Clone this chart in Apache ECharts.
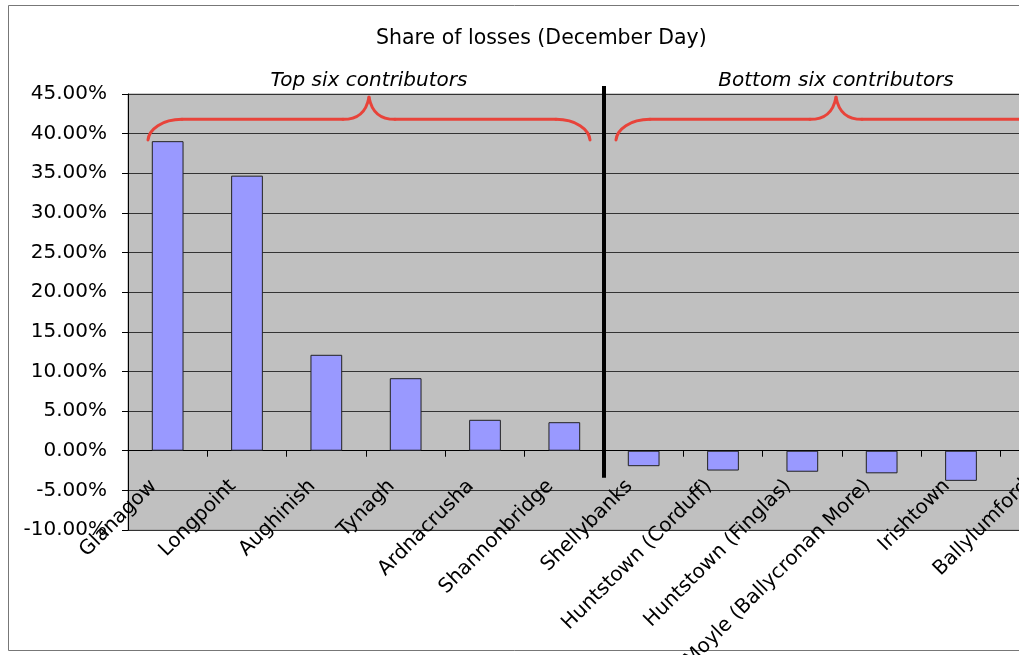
<!DOCTYPE html>
<html>
<head>
<meta charset="utf-8">
<script src="https://cdn.jsdelivr.net/npm/echarts@6/dist/echarts.min.js"></script>
<style>
  html, body { margin: 0; padding: 0; background: #fff; }
  #chart { width: 1019px; height: 655px; }
</style>
</head>
<body>
<div id="chart"></div>
<script>
const categories = [
  'Glanagow', 'Longpoint', 'Aughinish', 'Tynagh', 'Ardnacrusha', 'Shannonbridge',
  'Shellybanks', 'Huntstown (Corduff)', 'Huntstown (Finglas)', 'Moyle (Ballycronan More)',
  'Irishtown', 'Ballylumford'
]
const shares = [39.05, 34.7, 12.1, 9.15, 3.9, 3.6, -1.95, -2.5, -2.65, -2.85, -3.8, -4.5]
const groupLabels = ['Top six contributors', 'Bottom six contributors']
const yMin = -10
const yMax = 45
const yStep = 5

const FONT = 'DejaVu Sans'
const chart = echarts.init(document.getElementById('chart'))

chart.setOption({
  animation: false,
  backgroundColor: '#fff',
  title: {
    text: 'Share of losses (December Day)',
    left: 376,
    top: 28,
    padding: 0,
    textStyle: { color: '#000', fontSize: 20.5, fontWeight: 'normal', fontFamily: FONT },
  },
  grid: {
    left: 128,
    top: 94,
    width: 952,
    height: 436,
    outerBoundsMode: 'none',
    containLabel: false,
    show: true,
    backgroundColor: '#C0C0C0',
    borderColor: '#999',
    borderWidth: 1,
  },
  xAxis: {
    type: 'category',
    data: categories,
    axisLine: { onZero: true, lineStyle: { color: '#000', width: 1 } },
    axisTick: { show: true, length: 6, lineStyle: { color: '#000' } },
    axisLabel: {
      interval: 0,
      rotate: 45,
      margin: -61,
      padding: [0, 20, 0, 0],
      color: '#000',
      fontSize: 20,
      fontFamily: FONT,
    },
  },
  yAxis: {
    type: 'value',
    min: yMin,
    max: yMax,
    interval: yStep,
    axisLine: { show: true, lineStyle: { color: '#000' } },
    axisTick: { show: true, length: 6, lineStyle: { color: '#000' } },
    axisLabel: {
      margin: 21,
      color: '#000',
      fontSize: 20,
      fontFamily: FONT,
      formatter: v => v.toFixed(2) + '%',
    },
    splitLine: { lineStyle: { color: '#333', width: 1 } },
  },
  series: [{
    type: 'bar',
    data: shares,
    barWidth: '40%',
    itemStyle: { color: '#9999FF', borderColor: '#222', borderWidth: 1 },
  }],
})

// annotation overlay: separator, braces and group captions
const catX = i => chart.convertToPixel({ xAxisIndex: 0 }, i)
const valY = v => chart.convertToPixel({ yAxisIndex: 0 }, v)
const step = catX(1) - catX(0)

const braceStyle = { fill: 'none', stroke: '#E8433A', lineWidth: 3, lineCap: 'round' }

// curly brace as line + bezier pieces
function braceParts(x1, x2, yEnd, yFlat, yPeak) {
  const xm = (x1 + x2) / 2
  const curve = (sx, sy, c1x, c1y, c2x, c2y, ex, ey) => ({
    type: 'bezierCurve', silent: true, z: 10,
    shape: { x1: sx, y1: sy, cpx1: c1x, cpy1: c1y, cpx2: c2x, cpy2: c2y, x2: ex, y2: ey },
    style: braceStyle,
  })
  const seg = (sx, ex) => ({
    type: 'line', silent: true, z: 10,
    shape: { x1: sx, y1: yFlat, x2: ex, y2: yFlat },
    style: braceStyle,
  })
  return [
    curve(x1, yEnd, x1 + 1, yFlat + 10, x1 + 14, yFlat, x1 + 34, yFlat),
    seg(x1 + 34, xm - 26),
    curve(xm - 26, yFlat, xm - 12, yFlat, xm - 3, yFlat - 6, xm, yPeak),
    curve(xm, yPeak, xm + 3, yFlat - 6, xm + 12, yFlat, xm + 26, yFlat),
    seg(xm + 26, x2 - 34),
    curve(x2 - 34, yFlat, x2 - 14, yFlat, x2 - 1, yFlat + 10, x2, yEnd),
  ]
}

const sepX = (catX(5) + catX(6)) / 2
const braces = [
  { x1: catX(0) - step / 2 + 20, x2: catX(5) + step / 2 - 14 },
  { x1: catX(6) - step / 2 + 12, x2: catX(11) + step / 2 - 24 },
]
const yEnd = valY(39.2)
const yFlat = valY(41.8)
const yPeak = valY(44.6)

const graphics = [
  {
    type: 'rect',
    silent: true,
    shape: { x: 8.5, y: 5.5, width: 1100, height: 645 },
    style: { fill: 'none', stroke: '#777', lineWidth: 1 },
  },
  {
    type: 'line',
    silent: true,
    z: 10,
    shape: { x1: sepX, y1: valY(46), x2: sepX, y2: valY(-3.4) },
    style: { stroke: '#000', lineWidth: 4 },
  },
]

braces.forEach((b, i) => {
  graphics.push(...braceParts(b.x1, b.x2, yEnd, yFlat, yPeak))
  graphics.push({
    type: 'text',
    silent: true,
    z: 10,
    x: (b.x1 + b.x2) / 2,
    y: 81,
    style: {
      text: groupLabels[i],
      fill: '#000',
      font: `italic 20px "${FONT}"`,
      align: 'center',
      verticalAlign: 'middle',
    },
  })
})

chart.setOption({ graphic: graphics })
</script>
</body>
</html>
